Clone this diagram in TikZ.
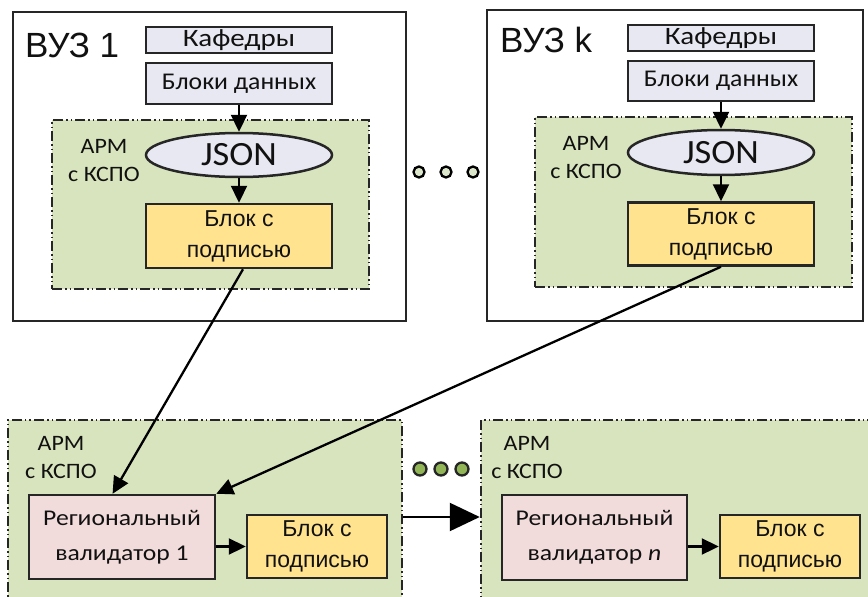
\documentclass[tikz,border=0pt]{standalone}
\usepackage{fontspec}
\setmainfont{Carlito}
\newfontfamily\arialf{Liberation Sans}
\newfontfamily\calA[FakeStretch=1.16]{Carlito}
\newfontfamily\calB[FakeStretch=1.07]{Carlito}
\newfontfamily\calC[FakeStretch=1.14]{Carlito}
\newfontfamily\calD[FakeStretch=1.09]{Carlito}
\usetikzlibrary{arrows.meta,shapes.geometric,calc}
\definecolor{lav}{HTML}{E8E8F2}
\definecolor{grn}{HTML}{D7E4BD}
\definecolor{ylw}{HTML}{FFE38F}
\definecolor{pnk}{HTML}{F2DCDB}
\definecolor{dotg}{HTML}{92B558}
\definecolor{dotl}{HTML}{DCE6CB}
\definecolor{txt}{HTML}{111111}
\tikzset{
  outerbox/.style={draw=black!85, line width=2pt, fill=white, inner sep=0pt},
  armbox/.style={draw=black!85, line width=2.5pt, fill=grn, inner sep=0pt,
    dash pattern=on 10pt off 3pt on 1.5pt off 3pt on 1.5pt off 3pt},
  lavbox/.style={draw=black!85, line width=2.5pt, fill=lav, inner sep=0pt, text=txt},
  ybox/.style={draw=black!85, line width=2.5pt, fill=ylw, inner sep=0pt, align=center, text=txt,
    font=\arialf\fontsize{23}{31}\selectfont},
  pbox/.style={draw=black!85, line width=2.5pt, fill=pnk, inner sep=0pt, align=center, text=txt,
    font=\calC\fontsize{22.5}{35}\selectfont},
  jsonell/.style={ellipse, draw=black!85, line width=2.5pt, fill=lav, inner sep=0pt, text=txt,
    font=\calB\fontsize{34}{40}\selectfont},
  armlbl/.style={align=center, text=txt, inner sep=0pt, font=\calD\fontsize{22}{28}\selectfont},
  vuzlbl/.style={anchor=base west, inner sep=0pt, text=txt, font=\arialf\fontsize{35}{40}\selectfont},
  conn/.style={draw=black, line width=2.3pt, -{Triangle[length=17pt,width=16pt]}},
  bigconn/.style={draw=black, line width=2.3pt, -{Triangle[length=30pt,width=28pt]}},
  ldot/.style={circle, draw=black, line width=2.3pt, fill=dotl, minimum size=11pt, inner sep=0pt},
  gdot/.style={circle, draw=black!85, line width=2.3pt, fill=dotg, minimum size=13pt, inner sep=0pt}
}
\begin{document}
\begin{tikzpicture}[x=1pt,y=-1pt]
\clip (0,0) rectangle (868,597);
\fill[white] (0,0) rectangle (868,597);

% ---- University 1 ----
\node[outerbox, minimum width=393, minimum height=309] (vuz1) at (209.5,166.5) {};
\node[vuzlbl] (vuz1l) at (25,57) {ВУЗ 1};
\node[lavbox, minimum width=186, minimum height=26, font=\calA\fontsize{25}{30}\selectfont] (kaf1) at (239,40) {Кафедры};
\node[lavbox, minimum width=186, minimum height=41, font=\calB\fontsize{24}{30}\selectfont] (bd1) at (239,83.5) {Блоки данных};
\node[armbox, minimum width=317, minimum height=169] (arm1) at (210.5,204.5) {};
\node[jsonell, minimum width=186, minimum height=44] (json1) at (239,155) {JSON};
\node[ybox, minimum width=186, minimum height=64] (blk1) at (239,236) {Блок с\\подписью};
\node[armlbl] (arm1l) at (104,161) {АРМ\\с КСПО};
\draw[conn] (bd1.south) -- (json1.north);
\draw[conn] (json1.south) -- (blk1.north);

% ---- University k ----
\node[outerbox, minimum width=376, minimum height=311] (vuzk) at (675,165.5) {};
\node[vuzlbl] (vuzkl) at (500,52) {ВУЗ k};
\node[lavbox, minimum width=186, minimum height=26, font=\calA\fontsize{25}{30}\selectfont] (kafk) at (721,38) {Кафедры};
\node[lavbox, minimum width=186, minimum height=40, font=\calB\fontsize{24}{30}\selectfont] (bdk) at (721,81) {Блоки данных};
\node[armbox, minimum width=317, minimum height=170] (armk) at (693.5,202) {};
\node[jsonell, minimum width=186, minimum height=45] (jsonk) at (721,152.5) {JSON};
\node[ybox, minimum width=186, minimum height=63] (blkk) at (721,234) {Блок с\\подписью};
\node[armlbl] (armkl) at (586,158) {АРМ\\с КСПО};
\draw[conn] (bdk.south) -- (jsonk.north);
\draw[conn] (jsonk.south) -- (blkk.north);

% dots between universities
\node[ldot] (d1) at (419,172) {};
\node[ldot] (d2) at (446,172) {};
\node[ldot] (d3) at (473,172) {};

% ---- Regional validators ----
\node[armbox, minimum width=394, minimum height=194] (armB1) at (205,517) {};
\node[armbox, minimum width=420, minimum height=194] (armBn) at (691,517) {};
\node[armlbl] (armB1l) at (61,458) {АРМ\\с КСПО};
\node[armlbl] (armBnl) at (527,458) {АРМ\\с КСПО};
\node[pbox, minimum width=186, minimum height=84] (reg1) at (122,537) {Региональный\\валидатор 1};
\node[ybox, minimum width=140, minimum height=63] (blkB1) at (317,546.5) {Блок с\\подписью};
\node[pbox, minimum width=185, minimum height=85] (regn) at (594.5,537.5) {Региональный\\валидатор \textit{n}};
\node[ybox, minimum width=140, minimum height=63] (blkBn) at (790,546.5) {Блок с\\подписью};
\draw[conn] (reg1.east |- blkB1.west) -- (blkB1.west);
\draw[conn] (regn.east |- blkBn.west) -- (blkBn.west);
\draw[bigconn] (armB1.east) -- (armBn.west);

\node[gdot] (g1) at (420,469) {};
\node[gdot] (g2) at (441,469) {};
\node[gdot] (g3) at (462,469) {};

% long connectors
\coordinate (r1in) at ($(reg1.north west)!0.45!(reg1.north east)$);
\draw[conn] ($(blk1.south)+(4,0)$) -- (r1in);
\draw[conn] (blkk.south) -- (reg1.north east);
\end{tikzpicture}
\end{document}
